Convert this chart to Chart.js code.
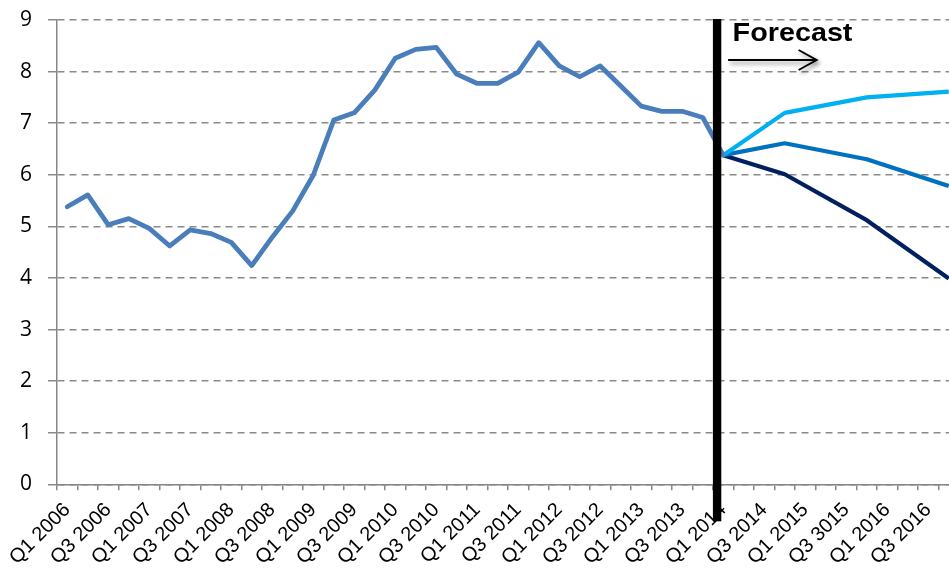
<!DOCTYPE html>
<html><head><meta charset="utf-8">
<script src="https://cdn.jsdelivr.net/npm/chart.js@4.4.1/dist/chart.umd.min.js"></script>
<style>html,body{margin:0;padding:0;overflow:hidden;background:#fff}canvas{display:block}</style>
</head><body><canvas id="c" width="959" height="572" style="width:959px;height:572px"></canvas>
<script>
const categories = [
  'Q1 2006','Q2 2006','Q3 2006','Q4 2006','Q1 2007','Q2 2007','Q3 2007','Q4 2007',
  'Q1 2008','Q2 2008','Q3 2008','Q4 2008','Q1 2009','Q2 2009','Q3 2009','Q4 2009',
  'Q1 2010','Q2 2010','Q3 2010','Q4 2010','Q1 2011','Q2 2011','Q3 2011','Q4 2011',
  'Q1 2012','Q2 2012','Q3 2012','Q4 2012','Q1 2013','Q2 2013','Q3 2013','Q4 2013',
  'Q1 2014','Q2 2014','Q3 2014','Q4 2014','Q1 2015','Q2 2015','Q3 3015','Q4 2015',
  'Q1 2016','Q2 2016','Q3 2016','Q4 2016'
];
const historical = [5.38,5.61,5.03,5.15,4.96,4.62,4.93,4.86,4.69,4.24,4.79,5.30,5.99,7.06,7.20,7.64,
  8.26,8.43,8.47,7.95,7.77,7.77,7.99,8.56,8.11,7.90,8.11,7.72,7.33,7.23,7.23,7.11,6.38];
const forecastQuarters = ['Q1 2014','Q4 2014','Q4 2015','Q4 2016'];
const forecastHigh = [6.38,7.20,7.50,7.61];
const forecastMid  = [6.38,6.61,6.30,5.78];
const forecastLow  = [6.38,6.01,5.12,3.99];
const yTickValues = [0,1,2,3,4,5,6,7,8,9];
const forecastLabel = 'Forecast';

const toPoints = vals => vals.map((v,i)=>({x: forecastQuarters[i], y: v}));

const marker = {
  id: 'forecastMarker',
  afterDatasetsDraw(chart){
    const {ctx, scales:{x, y}} = chart;
    const bx = x.getPixelForValue(31.7);
    const top = y.getPixelForValue(9) - 1;
    const bottom = y.getPixelForValue(0) + 37;
    ctx.save();
    ctx.fillStyle = '#000';
    ctx.fillRect(bx - 4.2, top, 8.4, bottom - top);
    ctx.save();
    ctx.translate(bx + 15.5, top + 21.5);
    ctx.scale(1.15, 1);
    ctx.font = 'bold 25px "Liberation Sans", Arial, sans-serif';
    ctx.textBaseline = 'alphabetic';
    ctx.fillText(forecastLabel, 0, 0);
    ctx.restore();
    const ay = top + 41;
    const ax0 = bx + 11, ax1 = bx + 99.5;
    ctx.shadowColor = 'rgba(0,0,0,0.45)';
    ctx.shadowBlur = 4; ctx.shadowOffsetX = 2; ctx.shadowOffsetY = 3;
    ctx.strokeStyle = '#000'; ctx.lineWidth = 2;
    ctx.beginPath();
    ctx.moveTo(ax0, ay); ctx.lineTo(ax1, ay);
    ctx.moveTo(ax1 - 18, ay - 10); ctx.lineTo(ax1, ay); ctx.lineTo(ax1 - 18, ay + 10);
    ctx.stroke();
    ctx.restore();
  }
};

new Chart(document.getElementById('c'), {
  type: 'line',
  data: {
    labels: categories,
    datasets: [
      { data: historical, borderColor: '#4a7ebb', borderWidth: 4.8, pointRadius: 0,
        borderJoinStyle: 'round', borderCapStyle: 'round', tension: 0, order: 1 },
      { data: toPoints(forecastHigh), borderColor: '#00b0f0', borderWidth: 4.2, pointRadius: 0,
        borderJoinStyle: 'round', tension: 0, spanGaps: true, order: 2 },
      { data: toPoints(forecastMid), borderColor: '#0070c0', borderWidth: 4.2, pointRadius: 0,
        borderJoinStyle: 'round', tension: 0, spanGaps: true, order: 3 },
      { data: toPoints(forecastLow), borderColor: '#002060', borderWidth: 4.2, pointRadius: 0,
        borderJoinStyle: 'round', tension: 0, spanGaps: true, order: 4 }
    ]
  },
  options: {
    responsive: false, animation: false,
    layout: { padding: { top: 20, right: 0, left: 0, bottom: 0 } },
    plugins: { legend: { display: false }, tooltip: { enabled: false } },
    scales: {
      x: {
        type: 'category', offset: true,
        grid: { offset: true, drawOnChartArea: false, drawTicks: true, tickLength: 6,
                color: '#868686', lineWidth: 1.5 },
        border: { color: '#868686', width: 1.5 },
        ticks: {
          autoSkip: false, minRotation: 45, maxRotation: 45, padding: 8, color: '#000',
          font: { family: '"Liberation Sans", Arial, sans-serif', size: 20 },
          callback: (v, i) => (i % 2 === 0 ? categories[i] : '')
        },
        afterFit: s => { s.height = 87.7; s.paddingLeft = 0; s.paddingRight = 0; }
      },
      y: {
        min: 0, max: 9,
        afterBuildTicks: s => { s.ticks = yTickValues.map(v => ({ value: v })); },
        grid: { color: '#8a8a8a', lineWidth: 1.5, tickLength: 9 },
        border: { color: '#868686', width: 1.5, dash: [7, 5] },
        ticks: { padding: 16, color: '#000',
                 font: { family: '"Open Sans", sans-serif', size: 21 } },
        afterFit: s => { s.width = 57; s.paddingTop = 0; s.paddingBottom = 0; }
      }
    }
  },
  plugins: [marker]
});
</script></body></html>
